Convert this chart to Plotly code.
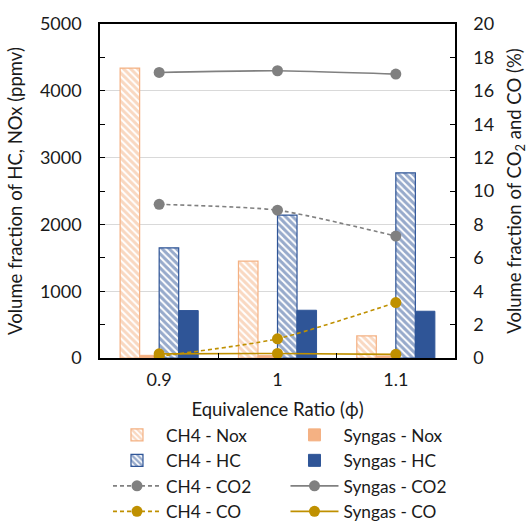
import plotly.graph_objects as go

categories = ["0.9", "1", "1.1"]
ch4_nox = [4340, 1450, 330]
syngas_nox = [40, 35, 30]
ch4_hc = [1650, 2140, 2770]
syngas_hc = [710, 715, 700]
ch4_co2 = [9.2, 8.85, 7.3]
syngas_co2 = [17.1, 17.2, 17.0]
ch4_co = [0.1, 1.15, 3.32]
syngas_co = [0.25, 0.27, 0.22]

PEACH = "#F4B183"
BLUE = "#2F5597"
GREY = "#808080"
GOLD = "#BF9000"
FONT = "Lato"
FS_TICK = 18
FS_TITLE = 18.5
FS_LEG = 17.3
TXT = "#1a1a1a"

fig = go.Figure()

def hatched(name, y, color):
    return go.Bar(
        name=name, x=categories, y=y,
        marker=dict(color="white", line=dict(color=color, width=1.2),
                    pattern=dict(shape="\\", fgcolor=color, bgcolor="white",
                                 size=5, solidity=0.6)),
    )

def solid(name, y, color):
    return go.Bar(name=name, x=categories, y=y,
                  marker=dict(color=color, line=dict(color=color, width=1)))

fig.add_trace(hatched("CH4 - Nox", ch4_nox, PEACH))
fig.add_trace(solid("Syngas - Nox", syngas_nox, PEACH))
fig.add_trace(hatched("CH4 - HC", ch4_hc, BLUE))
fig.add_trace(solid("Syngas - HC", syngas_hc, BLUE))

def line(name, y, color, dash):
    return go.Scatter(name=name, x=categories, y=y, yaxis="y2",
                      mode="lines+markers",
                      line=dict(color=color, width=1.6, dash=dash, shape="spline", smoothing=0.6),
                      marker=dict(color=color, size=11, symbol="circle"))

fig.add_trace(line("CH4 - CO2", ch4_co2, GREY, "4px,3px"))
fig.add_trace(line("Syngas - CO2", syngas_co2, GREY, "solid"))
fig.add_trace(line("CH4 - CO", ch4_co, GOLD, "4px,3px"))
fig.add_trace(line("Syngas - CO", syngas_co, GOLD, "solid"))

fig.update_layout(
    width=528, height=524,
    margin=dict(l=100, r=73, t=24, b=166, autoexpand=False),
    paper_bgcolor="white", plot_bgcolor="white",
    font=dict(family=FONT, size=FS_TICK, color=TXT),
    barmode="group", bargap=0.34, bargroupgap=0,
    showlegend=True,
    legend=dict(orientation="h", x=0.0225, xanchor="left", y=-0.177, yanchor="top",
                entrywidth=0.5, entrywidthmode="fraction", itemwidth=48,
                font=dict(family=FONT, size=FS_LEG, color=TXT),
                tracegroupgap=0, traceorder="normal"),
    xaxis=dict(
        type="category", tickson="boundaries", ticks="inside", ticklen=5,
        tickcolor="black", showline=True, linecolor="black", linewidth=1.5,
        mirror=True, showgrid=False, ticklabelstandoff=5,
        title=dict(text="Equivalence Ratio (ϕ)", standoff=14,
                   font=dict(family=FONT, size=FS_TITLE)),
        tickfont=dict(family=FONT, size=FS_TICK),
    ),
    yaxis=dict(
        range=[0, 5000], dtick=1000, tick0=0, ticks="inside", ticklen=5,
        tickcolor="black", showline=True, linecolor="black", linewidth=1.5,
        showgrid=True, gridcolor="#D9D9D9", gridwidth=1, zeroline=False,
        ticklabelstandoff=13,
        minor=dict(dtick=500, ticks="inside", ticklen=5, tickcolor="black", showgrid=False),
        title=dict(text="Volume fraction of HC, NOx (ppmv)", standoff=12,
                   font=dict(family=FONT, size=FS_TITLE)),
        tickfont=dict(family=FONT, size=FS_TICK),
    ),
    yaxis2=dict(
        overlaying="y", side="right", range=[0, 20], dtick=2, tick0=0,
        ticks="inside", ticklen=5, tickcolor="black", showline=True,
        linecolor="black", linewidth=1.5, showgrid=False, zeroline=False,
        ticklabelstandoff=13,
        title=dict(text="Volume fraction of CO<sub>2</sub> and CO (%)", standoff=17,
                   font=dict(family=FONT, size=FS_TITLE)),
        tickfont=dict(family=FONT, size=FS_TICK),
    ),
)

fig.write_html("out.html")
